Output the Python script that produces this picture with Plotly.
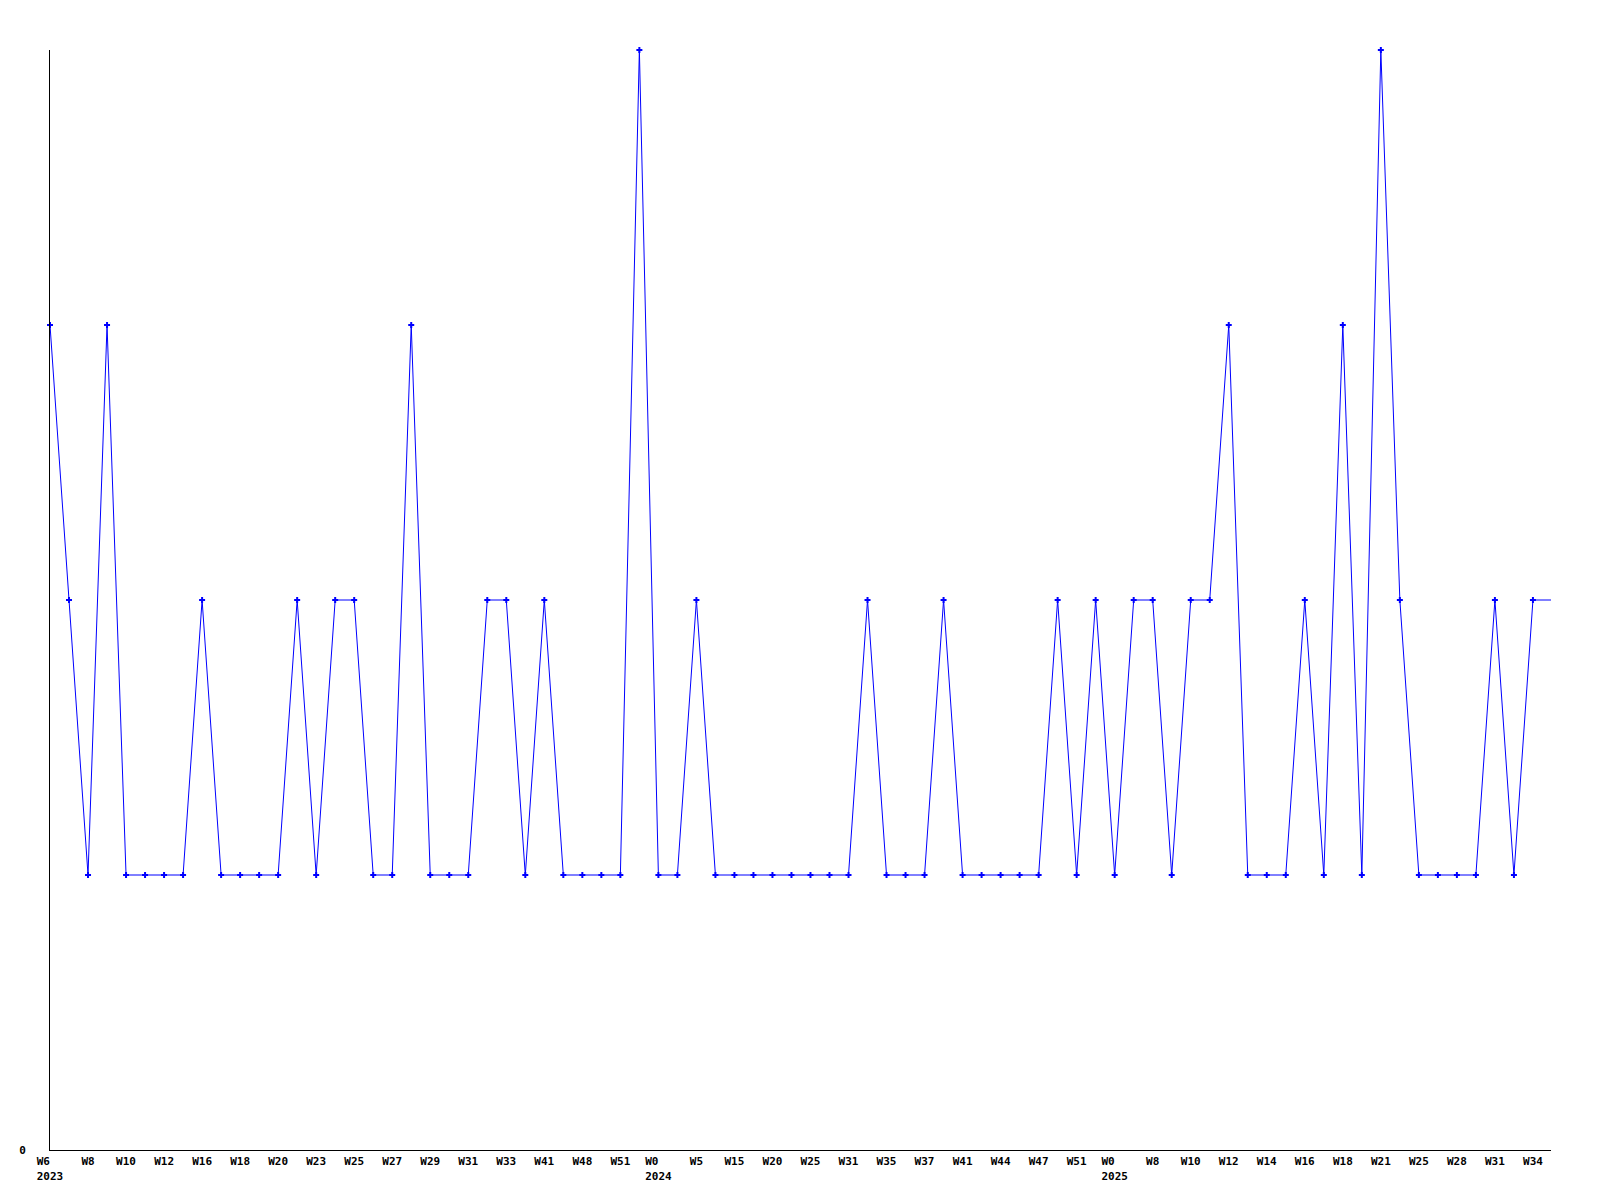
import plotly.graph_objects as go

# Values per data point (weekly series, evenly spaced points)
values = [3, 2, 1, 3, 1, 1, 1, 1, 2, 1,
          1, 1, 1, 2, 1, 2, 2, 1, 1, 3,
          1, 1, 1, 2, 2, 1, 2, 1, 1, 1,
          1, 4, 1, 1, 2, 1, 1, 1, 1, 1,
          1, 1, 1, 2, 1, 1, 1, 2, 1, 1,
          1, 1, 1, 2, 1, 2, 1, 2, 2, 1,
          2, 2, 3, 1, 1, 1, 2, 1, 3, 1,
          4, 2, 1, 1, 1, 1, 2, 1, 2]

# Tick labels shown on every second point
week_labels = ["W6", "W8", "W10", "W12", "W16", "W18", "W20", "W23", "W25", "W27",
               "W29", "W31", "W33", "W41", "W48", "W51",
               "W0", "W5", "W15", "W20", "W25", "W31", "W35", "W37", "W41", "W44",
               "W47", "W51",
               "W0", "W8", "W10", "W12", "W14", "W16", "W18", "W21", "W25", "W28",
               "W31", "W34"]
year_labels = {0: "2023", 16: "2024", 28: "2025"}

x = list(range(len(values)))
tickvals = x[::2]
ticktext = []
for k, w in enumerate(week_labels):
    if k in year_labels:
        yr = year_labels[k]
        pad = "\u00a0" * max(0, len(yr) - len(w))
        ticktext.append(w + pad + "<br>" + yr)
    else:
        ticktext.append(w)

x_max = 78.95
blue = "#0000ff"

fig = go.Figure()
fig.add_trace(go.Scatter(
    x=[x[-1], x_max], y=[values[-1], values[-1]],
    mode="lines", line=dict(color=blue, width=1),
    hoverinfo="skip", showlegend=False, cliponaxis=False))
fig.add_trace(go.Scatter(
    x=x, y=values, mode="lines+markers",
    line=dict(color=blue, width=1),
    marker=dict(symbol="cross", size=5, color=blue, line=dict(width=0)),
    showlegend=False, cliponaxis=False))

font = dict(family="DejaVu Sans Mono", size=11, color="black", weight="bold")

fig.update_layout(
    width=1584, height=1184,
    margin=dict(l=42, r=41, t=42, b=42),
    paper_bgcolor="white", plot_bgcolor="white",
    font=font,
    xaxis=dict(range=[0, x_max], tickmode="array", tickvals=tickvals, ticktext=ticktext,
               showgrid=False, zeroline=False, showline=True, linecolor="black",
               linewidth=1, ticks="", tickfont=font, tickangle=0, automargin=False,
               ticklabelstandoff=1),
    yaxis=dict(range=[0, 4], tickmode="array", tickvals=[0], ticktext=["0"],
               showgrid=False, zeroline=False, showline=True, linecolor="black",
               linewidth=1, ticks="", tickfont=font, ticklabelstandoff=21,
               automargin=False),
)

fig.write_html("out.html")
